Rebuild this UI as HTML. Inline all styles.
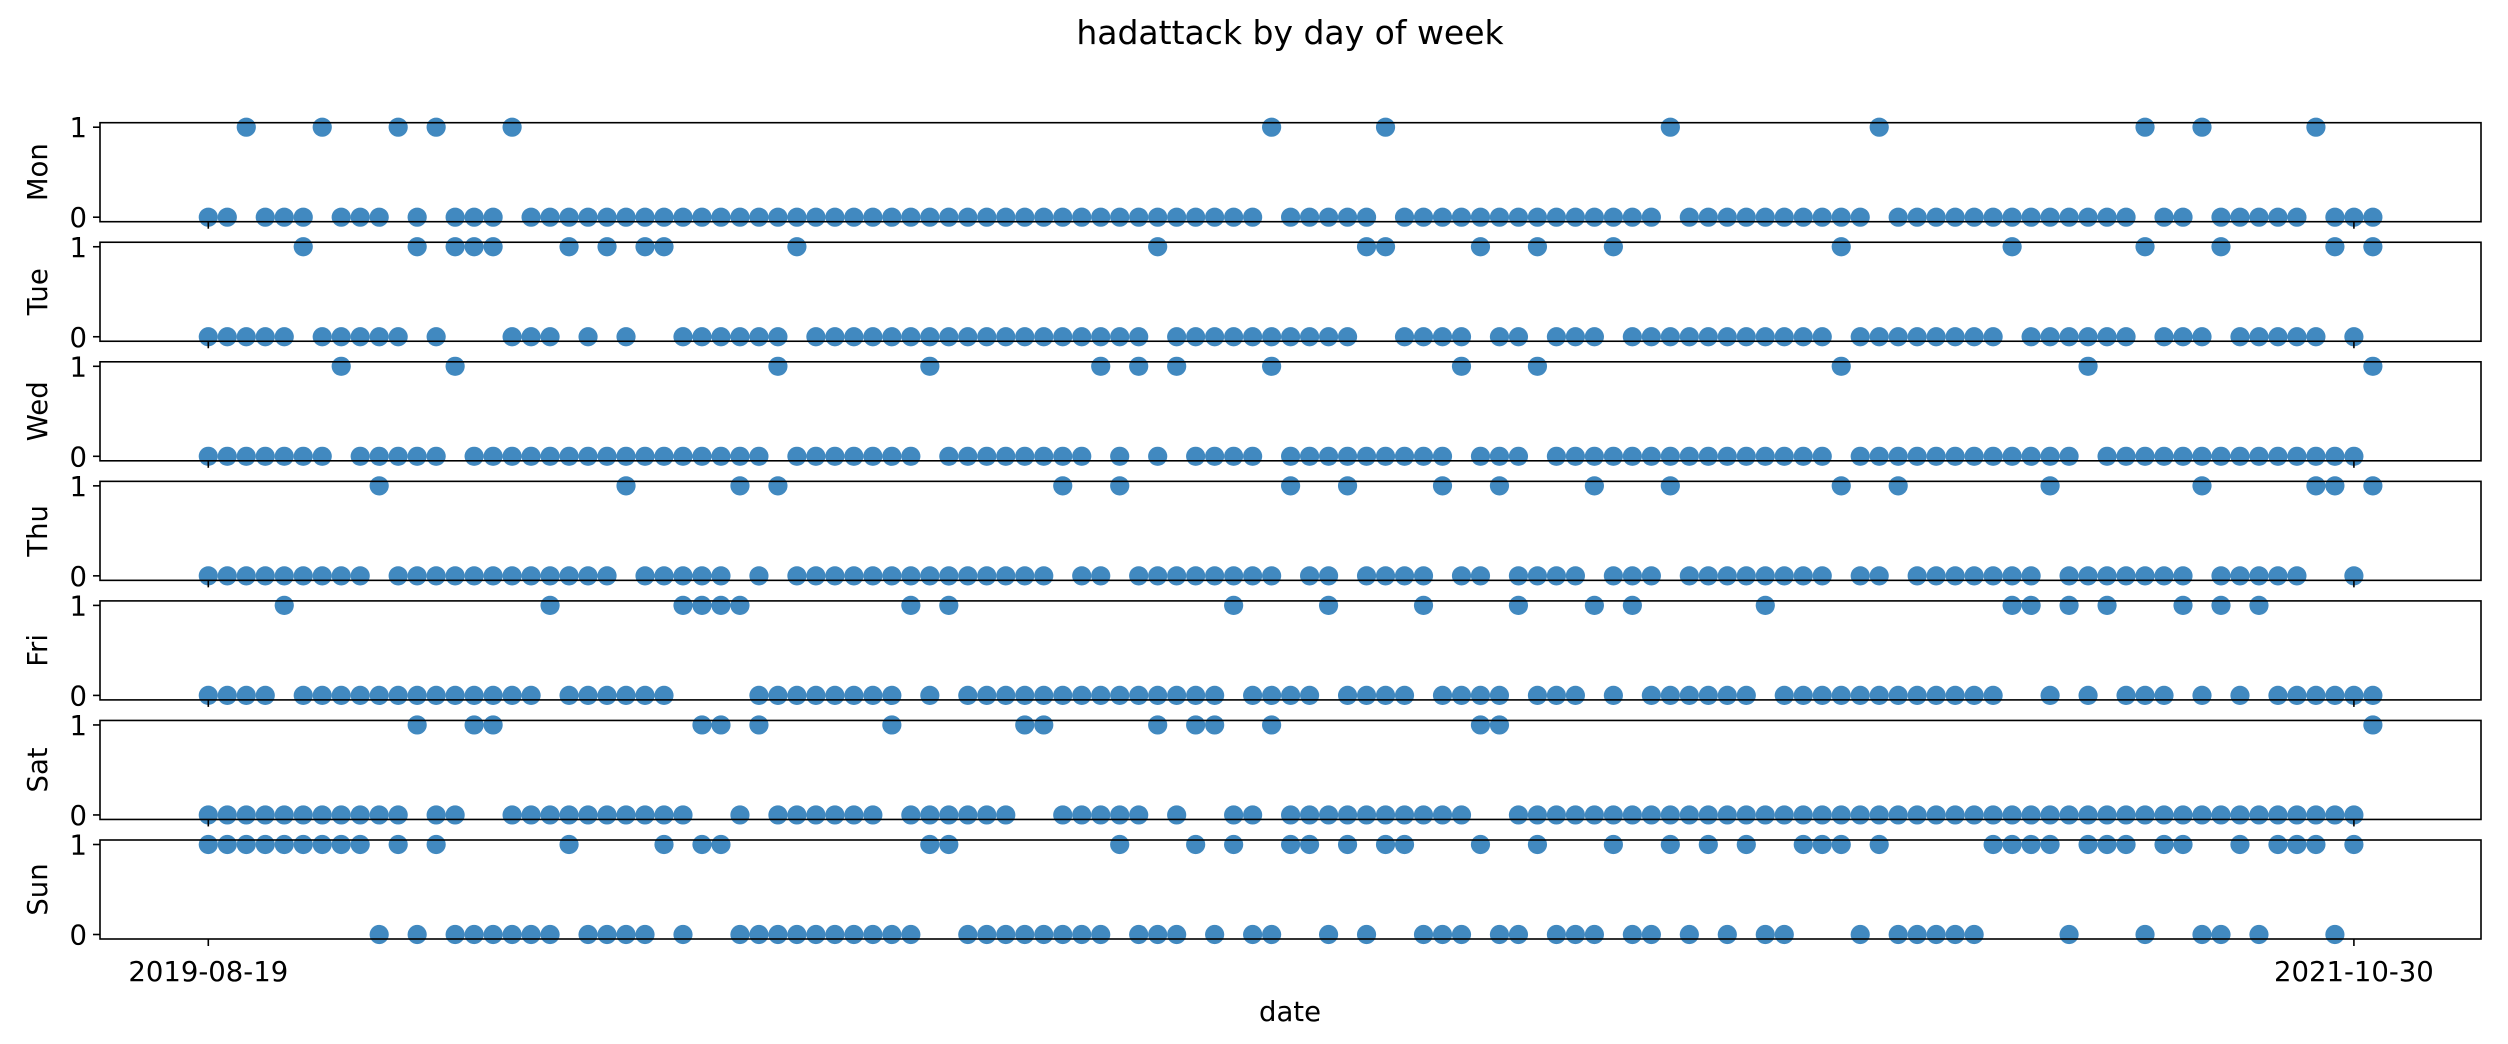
<!DOCTYPE html>
<html><head><meta charset="utf-8"><title>hadattack by day of week</title>
<style>html,body{margin:0;padding:0;background:#fff;}svg{display:block;}text{font-family:"DejaVu Sans","Liberation Sans",sans-serif;fill:#000;}</style>
</head><body>
<svg id="chart" width="2508" height="1044" viewBox="0 0 2508 1044" xmlns="http://www.w3.org/2000/svg">
<rect width="2508" height="1044" fill="#fff"/>
<text x="1290" y="44" font-size="33" text-anchor="middle">hadattack by day of week</text>
<text x="1290" y="1021" font-size="27.5" text-anchor="middle">date</text>
</svg>
<script>
const _ = null;
const days = ["Mon","Tue","Wed","Thu","Fri","Sat","Sun"];
const xTickLabels = ["2019-08-19","2021-10-30"];
const xTickIndex = [0,113];
const yTicks = [0,1];
const mon = [0,0,1,0,0,0,1,0,0,0, 1,0,1,0,0,0,1,0,0,0, 0,0,0,0,0,0,0,0,0,0, 0,0,0,0,0,0,0,0,0,0, 0,0,0,0,0,0,0,0,0,0, 0,0,0,0,0,0,1,0,0,0, 0,0,1,0,0,0,0,0,0,0, 0,0,0,0,0,0,0,1,0,0, 0,0,0,0,0,0,0,0,1,0, 0,0,0,0,0,0,0,0,0,0, 0,0,1,0,0,1,0,0,0,0, 0,1,0,0,0];
const tue = [0,0,0,0,0,1,0,0,0,0, 0,1,0,1,1,1,0,0,0,1, 0,1,0,1,1,0,0,0,0,0, 0,1,0,0,0,0,0,0,0,0, 0,0,0,0,0,0,0,0,0,0, 1,0,0,0,0,0,0,0,0,0, 0,1,1,0,0,0,0,1,0,0, 1,0,0,0,1,0,0,0,0,0, 0,0,0,0,0,0,1,0,0,0, 0,0,0,0,0,1,0,0,0,0, 0,0,1,0,0,0,1,0,0,0, 0,0,1,0,1];
const wed = [0,0,0,0,0,0,0,1,0,0, 0,0,0,1,0,0,0,0,0,0, 0,0,0,0,0,0,0,0,0,0, 1,0,0,0,0,0,0,0,1,0, 0,0,0,0,0,0,0,1,0,1, 0,1,0,0,0,0,1,0,0,0, 0,0,0,0,0,0,1,0,0,0, 1,0,0,0,0,0,0,0,0,0, 0,0,0,0,0,0,1,0,0,0, 0,0,0,0,0,0,0,0,0,1, 0,0,0,0,0,0,0,0,0,0, 0,0,0,0,1];
const thu = [0,0,0,0,0,0,0,0,0,1, 0,0,0,0,0,0,0,0,0,0, 0,0,1,0,0,0,0,0,1,0, 1,0,0,0,0,0,0,0,0,0, 0,0,0,0,0,1,0,0,1,0, 0,0,0,0,0,0,0,1,0,0, 1,0,0,0,0,1,0,0,1,0, 0,0,0,1,0,0,0,1,0,0, 0,0,0,0,0,0,1,0,0,1, 0,0,0,0,0,0,0,1,0,0, 0,0,0,0,0,1,0,0,0,0, 0,1,1,0,1];
const fri = [0,0,0,0,1,0,0,0,0,0, 0,0,0,0,0,0,0,0,1,0, 0,0,0,0,0,1,1,1,1,0, 0,0,0,0,0,0,0,1,0,1, 0,0,0,0,0,0,0,0,0,0, 0,0,0,0,1,0,0,0,0,1, 0,0,0,0,1,0,0,0,0,1, 0,0,0,1,0,1,0,0,0,0, 0,0,1,0,0,0,0,0,0,0, 0,0,0,0,0,1,1,0,1,0, 1,0,0,0,1,0,1,0,1,0, 0,0,0,0,0];
const sat = [0,0,0,0,0,0,0,0,0,0, 0,1,0,0,1,1,0,0,0,0, 0,0,0,0,0,0,1,1,0,1, 0,0,0,0,0,0,1,0,0,0, 0,0,0,1,1,0,0,0,0,0, 1,0,1,1,0,0,1,0,0,0, 0,0,0,0,0,0,0,1,1,0, 0,0,0,0,0,0,0,0,0,0, 0,0,0,0,0,0,0,0,0,0, 0,0,0,0,0,0,0,0,0,0, 0,0,0,0,0,0,0,0,0,0, 0,0,0,0,1];
const sun = [1,1,1,1,1,1,1,1,1,0, 1,0,1,0,0,0,0,0,0,1, 0,0,0,0,1,0,1,1,0,0, 0,0,0,0,0,0,0,0,1,1, 0,0,0,0,0,0,0,0,1,0, 0,0,1,0,1,0,0,1,1,0, 1,0,1,1,0,0,0,1,0,0, 1,0,0,0,1,0,0,1,0,1, 0,1,0,0,1,1,1,0,1,0, 0,0,0,0,1,1,1,1,0,1, 1,1,0,1,1,0,0,1,0,1, 1,1,0,1,_];
const series = [mon,tue,wed,thu,fri,sat,sun];

const NS = "http://www.w3.org/2000/svg";
const svg = document.getElementById("chart");
const L = 100, R = 2481, T0 = 122.7, PITCH = 119.55, H = 99;
const X0 = 208.3, DX = (2353.9 - 208.3) / 113;
function xPos(i){ return X0 + i * DX; }
function yPos(v, top){ return top + H - (v + 0.05) / 1.1 * H; }
function mk(tag, attrs){ const e = document.createElementNS(NS, tag); for (const k in attrs) e.setAttribute(k, attrs[k]); return e; }

days.forEach((d, k) => {
  const top = T0 + k * PITCH;
  const g = mk("g", {});
  
  
  svg.appendChild(g);
  const data = series[k];
  data.forEach((v, i) => {
    if (v === null) return;
    const c = mk("circle", {cx: xPos(i), cy: yPos(v, top), r: 9.6, fill: "#4189c0"});
    
    
    g.appendChild(c);
  });
  const fr = mk("rect", {x: L, y: top, width: R - L, height: H, fill: "none", stroke: "#000", "stroke-width": 1.6});
  
  
  g.appendChild(fr);
  yTicks.forEach(t => {
    const y = yPos(t, top);
    const tl = mk("line", {x1: L - 7, x2: L, y1: y, y2: y, stroke: "#000", "stroke-width": 1.6});
    
    
    g.appendChild(tl);
    const tx = mk("text", {x: L - 13, y: y + 10, "font-size": 27.5, "text-anchor": "end"});
    tx.textContent = String(t);
    
    
    g.appendChild(tx);
  });
  xTickIndex.forEach((ti, j) => {
    const x = xPos(ti);
    const tl = mk("line", {x1: x, x2: x, y1: top + H, y2: top + H + 7, stroke: "#000", "stroke-width": 1.6});
    
    
    g.appendChild(tl);
    if (k === days.length - 1) {
      const tx = mk("text", {x: x, y: top + H + 42, "font-size": 27.5, "text-anchor": "middle"});
      tx.textContent = xTickLabels[j];
      
      
      g.appendChild(tx);
    }
  });
  const yl = mk("text", {x: 0, y: 0, "font-size": 27.5, "text-anchor": "middle", transform: "translate(47," + (top + H / 2) + ") rotate(-90)"});
  yl.textContent = d;
  
  
  g.appendChild(yl);
});
</script>
</body></html>
